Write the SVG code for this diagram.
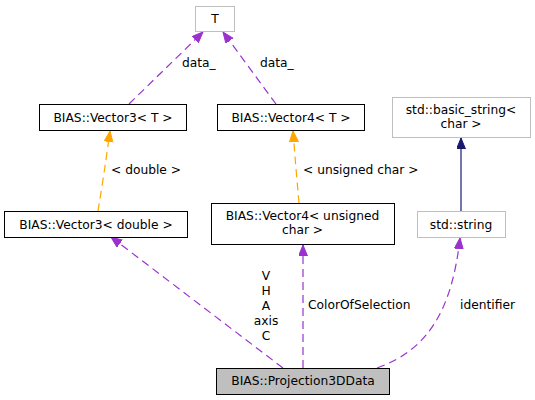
<svg xmlns="http://www.w3.org/2000/svg" width="535" height="400" viewBox="0 0 535 400">
<style>
text{font-family:"DejaVu Sans","Liberation Sans",sans-serif;font-size:12.25px;fill:#000}
.n{text-anchor:middle}
.b{fill:#fff;stroke:#000;stroke-width:1}
.g{fill:#fff;stroke:#bfbfbf;stroke-width:1}
.sel{fill:#bfbfbf;stroke:#000;stroke-width:1}
.p{fill:none;stroke:#9a32cd;stroke-width:1.2;stroke-dasharray:8,5}
.o{fill:none;stroke:#ffa500;stroke-width:1.2;stroke-dasharray:8,5}
.s{fill:none;stroke:#191970;stroke-width:1.2}
</style>
<defs>
<marker id="ap" markerUnits="userSpaceOnUse" markerWidth="12" markerHeight="10" refX="11" refY="4.5" orient="auto"><path d="M0,0 L11,4.5 L0,9 z" fill="#9a32cd" stroke="#9a32cd"/></marker>
<marker id="ao" markerUnits="userSpaceOnUse" markerWidth="12" markerHeight="10" refX="11" refY="4.5" orient="auto"><path d="M0,0 L11,4.5 L0,9 z" fill="#ffa500" stroke="#ffa500"/></marker>
<marker id="as" markerUnits="userSpaceOnUse" markerWidth="12" markerHeight="10" refX="11" refY="4.5" orient="auto"><path d="M0,0 L11,4.5 L0,9 z" fill="#191970" stroke="#191970"/></marker>
</defs>
<rect width="535" height="400" fill="#fff"/>
<g id="edges">
<path class="p" d="M129,104 L203,32" marker-end="url(#ap)"/>
<text x="182" y="67">data_</text>
<path class="p" d="M276,104 L223,32" marker-end="url(#ap)"/>
<text x="260" y="67">data_</text>
<path class="o" d="M98,211 Q104,175 110,131" marker-end="url(#ao)"/>
<text x="111" y="174">&lt; double &gt;</text>
<path class="o" d="M299,203 Q296,170 293,131" marker-end="url(#ao)"/>
<text x="303" y="174">&lt; unsigned char &gt;</text>
<path class="s" d="M461,211 L461,138" marker-end="url(#as)"/>
<path class="p" d="M283,368 L111,237" marker-end="url(#ap)"/>
<text class="n" x="266" y="280">V</text>
<text class="n" x="266" y="295">H</text>
<text class="n" x="266" y="310">A</text>
<text class="n" x="266" y="325">axis</text>
<text class="n" x="266" y="340">C</text>
<path class="p" d="M303,368 L303,245" marker-end="url(#ap)"/>
<text x="308" y="309">ColorOfSelection</text>
<path class="p" d="M377,368 C428,350 452,310 460,238" marker-end="url(#ap)"/>
<text x="460" y="309">identifier</text>
</g>
<g id="T"><rect class="g" x="195.5" y="6.5" width="39" height="25"/><text class="n" x="215" y="23">T</text></g>
<g id="Vector3T"><rect class="b" x="39.5" y="104.5" width="147" height="26"/><text class="n" x="113" y="122">BIAS::Vector3&lt; T &gt;</text></g>
<g id="Vector4T"><rect class="b" x="217.5" y="104.5" width="147" height="26"/><text class="n" x="291" y="122">BIAS::Vector4&lt; T &gt;</text></g>
<g id="basic_string"><rect class="g" x="392.5" y="97.5" width="138" height="40"/><text class="n" x="461" y="114">std::basic_string&lt;</text><text class="n" x="461" y="128">char &gt;</text></g>
<g id="Vector3double"><rect class="b" x="4.5" y="211.5" width="183" height="26"/><text class="n" x="96" y="229">BIAS::Vector3&lt; double &gt;</text></g>
<g id="Vector4uchar"><rect class="b" x="211.5" y="203.5" width="183" height="41"/><text class="n" x="302.5" y="220">BIAS::Vector4&lt; unsigned</text><text class="n" x="302.5" y="234">char &gt;</text></g>
<g id="string"><rect class="g" x="417.5" y="211.5" width="88" height="26"/><text class="n" x="461" y="229">std::string</text></g>
<g id="Projection3DData"><rect class="sel" x="216.5" y="368.5" width="173" height="26"/><text class="n" x="303" y="385">BIAS::Projection3DData</text></g>
</svg>
